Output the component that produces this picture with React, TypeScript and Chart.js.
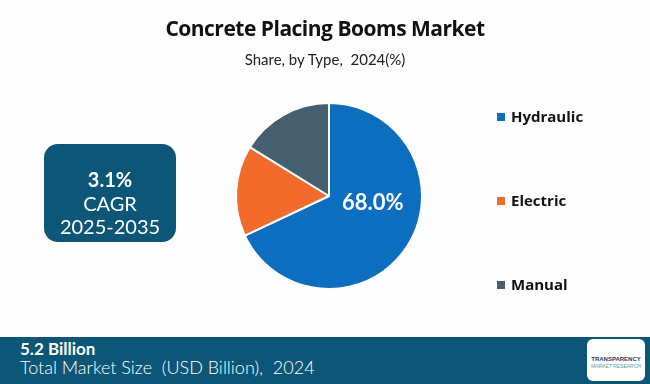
import React, { useEffect, useRef } from "react";
import { Chart, registerables } from "chart.js";

Chart.register(...registerables);

const categories = ["Hydraulic", "Electric", "Manual"];
const shares = [68.0, 15.8, 16.2];
const colors = ["#0b6ebf", "#f26b2a", "#455f6e"];
const title = "Concrete Placing Booms Market";
const subtitle = "Share, by Type,  2024(%)";
const cagrValue = "3.1%";
const cagrLabel = "CAGR";
const cagrPeriod = "2025-2035";
const marketSize = "5.2 Billion";
const marketLabel = "Total Market Size  (USD Billion),  2024";

const teal = "#0c5677";
const gothic = "'Lato', 'Open Sans', sans-serif";

const sliceLabelPlugin = {
  id: "sliceLabel",
  afterDatasetsDraw(chart: any) {
    const ctx = chart.ctx;
    const meta = chart.getDatasetMeta(0);
    const arc = meta.data[0];
    if (!arc) return;
    const { x, y, outerRadius } = arc.getProps(["x", "y", "outerRadius"], true);
    ctx.save();
    ctx.fillStyle = "#ffffff";
    ctx.font = "bold 22px 'Lato', sans-serif";
    ctx.textAlign = "center";
    ctx.textBaseline = "middle";
    const v = chart.data.datasets[0].data[0];
    ctx.fillText(v.toFixed(1) + "%", x + outerRadius * 0.47, y + 7);
    ctx.restore();
  },
};

const legendPlugin = {
  id: "customLegend",
  afterDraw(chart: any) {
    const ctx = chart.ctx;
    const labels = chart.data.labels;
    const bg = chart.data.datasets[0].backgroundColor;
    ctx.save();
    ctx.font = "bold 15px 'Open Sans', sans-serif";
    ctx.textBaseline = "middle";
    labels.forEach((l: string, i: number) => {
      const y = 117 + i * 84;
      ctx.fillStyle = bg[i];
      ctx.fillRect(497, y - 4, 8, 8);
      ctx.fillStyle = "#111111";
      ctx.fillText(l, 511, y + 1);
    });
    ctx.restore();
  },
};

export default function App() {
  const ref = useRef<HTMLCanvasElement>(null);
  useEffect(() => {
    document.body.style.margin = "0";
    const chart = new Chart(ref.current!, {
      type: "pie",
      data: {
        labels: categories,
        datasets: [
          {
            data: shares,
            backgroundColor: colors,
            borderColor: "#ffffff",
            borderWidth: 2,
          },
        ],
      },
      options: {
        animation: false,
        responsive: false,
        maintainAspectRatio: false,
        layout: { padding: { top: 102, bottom: 94, left: 235, right: 227 } },
        plugins: {
          legend: { display: false },
          tooltip: { enabled: false },
        },
      },
      plugins: [sliceLabelPlugin, legendPlugin],
    });
    return () => chart.destroy();
  }, []);

  return (
    <div
      style={{
        position: "fixed",
        left: 0,
        top: 0,
        width: 650,
        height: 384,
        background: "#fdfdfd",
        overflow: "hidden",
        fontFamily: gothic,
      }}
    >
      <canvas ref={ref} width={650} height={384} style={{ position: "absolute", left: 0, top: 0 }} />
      <div
        style={{
          position: "absolute",
          top: 14,
          left: 0,
          width: 650,
          textAlign: "center",
          fontFamily: "'Open Sans', sans-serif",
          fontWeight: 700,
          fontSize: 21,
          letterSpacing: -0.5,
          color: "#111",
          whiteSpace: "pre",
        }}
      >
        {title}
      </div>
      <div
        style={{
          position: "absolute",
          top: 50,
          left: 0,
          width: 650,
          textAlign: "center",
          fontSize: 15,
          color: "#222",
          whiteSpace: "pre",
        }}
      >
        {subtitle}
      </div>
      <div
        style={{
          position: "absolute",
          left: 44,
          top: 144,
          width: 132,
          height: 98,
          borderRadius: 14,
          background: teal,
          color: "#fff",
          textAlign: "center",
        }}
      >
        <div style={{ fontWeight: 700, fontSize: 20, marginTop: 23, lineHeight: "24px" }}>{cagrValue}</div>
        <div style={{ fontSize: 20, lineHeight: "24px" }}>{cagrLabel}</div>
        <div style={{ fontSize: 20, lineHeight: "23px" }}>{cagrPeriod}</div>
      </div>
      <div
        style={{
          position: "absolute",
          left: 0,
          top: 337,
          width: 650,
          height: 47,
          background: teal,
          color: "#fff",
        }}
      >
        <div style={{ position: "absolute", left: 20, top: 1, fontWeight: 700, fontSize: 17 }}>{marketSize}</div>
        <div style={{ position: "absolute", left: 20, top: 19, fontSize: 18, fontWeight: 300, whiteSpace: "pre" }}>
          {marketLabel}
        </div>
        <div
          style={{
            position: "absolute",
            left: 587,
            top: 2,
            width: 58,
            height: 42,
            borderRadius: 6,
            background: "#fff",
            textAlign: "center",
            fontFamily: "'Liberation Sans', sans-serif",
          }}
        >
          <div style={{ fontSize: 6, fontWeight: 700, color: "#1a3d5c", marginTop: 17, lineHeight: "7px" }}>
            TRANSPARENCY
          </div>
          <div style={{ fontSize: 5, color: "#5aa0a0", lineHeight: "6px" }}>MARKET RESEARCH</div>
        </div>
      </div>
    </div>
  );
}
